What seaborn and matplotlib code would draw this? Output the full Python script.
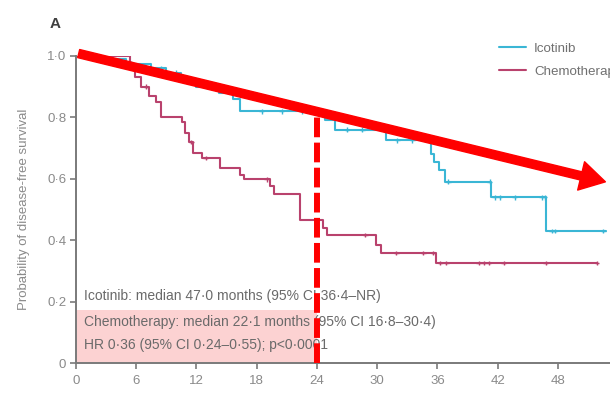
import numpy as np
import pandas as pd
import matplotlib
matplotlib.use("Agg")
import matplotlib.pyplot as plt
from matplotlib.patches import FancyArrowPatch, Rectangle
import seaborn as sns

# ---------------- data ----------------
ico_t = [0, 2.5, 5.0, 7.5, 9.0, 10.5, 12.0, 14.2, 15.6, 16.3, 24.8, 25.8, 30.9,
         35.4, 35.7, 36.2, 36.8, 41.3, 46.8, 52.8]
ico_s = [1.0, 0.99, 0.975, 0.96, 0.945, 0.925, 0.90, 0.88, 0.86, 0.82, 0.79, 0.76,
         0.725, 0.68, 0.655, 0.63, 0.59, 0.54, 0.43, 0.43]
ico_cens = [3.0, 5.5, 8.5, 10.0, 13.0, 18.5, 20.5, 22.5, 23.5, 27.0, 28.5, 32.0,
            33.5, 37.1, 41.2, 41.7, 42.2, 43.7, 46.4, 46.7, 47.4, 47.7, 52.5]

chemo_t = [0, 5.4, 5.9, 6.5, 7.3, 8.0, 8.5, 10.6, 10.9, 11.3, 11.7, 12.5, 14.3,
           16.3, 16.7, 19.3, 19.7, 22.3, 24.6, 25.0, 29.9, 30.4, 35.9, 51.9]
chemo_s = [1.0, 0.96, 0.93, 0.90, 0.87, 0.85, 0.80, 0.785, 0.75, 0.72, 0.685, 0.668,
           0.635, 0.612, 0.598, 0.575, 0.55, 0.466, 0.44, 0.417, 0.385, 0.358, 0.326, 0.326]
chemo_cens = [7.0, 11.5, 12.9, 19.0, 28.8, 31.9, 34.6, 35.6, 36.3, 36.9, 40.1, 40.6,
              41.1, 42.6, 46.8, 51.9]

groups = ["Icotinib", "Chemotherapy"]
colors = ["#3ab6d5", "#b9426d"]

x_ticks = [0, 6, 12, 18, 24, 30, 36, 42, 48]
y_ticks = [0, 0.2, 0.4, 0.6, 0.8, 1.0]
y_ticklabels = ["0", "0·2", "0·4", "0·6", "0·8", "1·0"]

ylabel = "Probability of disease-free survival"
note_lines = ["Icotinib: median 47·0 months (95% CI 36·4–NR)",
              "Chemotherapy: median 22·1 months (95% CI 16·8–30·4)",
              "HR 0·36 (95% CI 0·24–0·55); p<0·0001"]
landmark = 24
box_top = 0.173

# ---------------- build tables ----------------
curves = pd.concat([
    pd.DataFrame({"time": ico_t, "surv": ico_s, "group": groups[0]}),
    pd.DataFrame({"time": chemo_t, "surv": chemo_s, "group": groups[1]}),
], ignore_index=True)

def surv_at(ts, ss, x):
    idx = np.searchsorted(np.array(ts), np.array(x), side="right") - 1
    return np.array(ss)[idx]

cens = pd.concat([
    pd.DataFrame({"time": ico_cens, "surv": surv_at(ico_t, ico_s, ico_cens), "group": groups[0]}),
    pd.DataFrame({"time": chemo_cens, "surv": surv_at(chemo_t, chemo_s, chemo_cens), "group": groups[1]}),
], ignore_index=True)

# ---------------- plot ----------------
sns.set_style("ticks")
plt.rcParams["font.family"] = ["Liberation Sans", "DejaVu Sans"]

W, H = 610, 396
fig = plt.figure(figsize=(W / 100, H / 100), dpi=100)
ax = fig.add_axes([76 / W, 33 / H, 534 / W, 307 / H])
xmax = 534 / 10.04
ax.set_xlim(0, xmax)
ax.set_ylim(0, 1.0)

ax.add_patch(Rectangle((0, 0), landmark, box_top, facecolor="#fcd2d2", edgecolor="none", zorder=0))

palette = dict(zip(groups, colors))
sns.lineplot(data=curves, x="time", y="surv", hue="group", palette=palette,
             drawstyle="steps-post", estimator=None, sort=False, lw=1.5, ax=ax,
             legend=True, zorder=2)
sns.scatterplot(data=cens, x="time", y="surv", hue="group", palette=palette,
                marker="+", s=12, linewidth=1.0, ax=ax, legend=False, zorder=3)

ax.set_xticks(x_ticks)
ax.set_yticks(y_ticks)
ax.set_yticklabels(y_ticklabels)
ax.tick_params(axis="both", colors="#7a7a7a", labelcolor="#8a8a8a", labelsize=9.5,
               length=4.5, width=1.2)
ax.tick_params(axis="x", pad=4.5)
ax.tick_params(axis="y", pad=2.5)
for sp in ["top", "right"]:
    ax.spines[sp].set_visible(False)
for sp in ["left", "bottom"]:
    ax.spines[sp].set_color("#7a7a7a")
    ax.spines[sp].set_linewidth(1.4)
ax.set_xlabel("")
ax.set_ylabel(ylabel, fontsize=9.5, color="#8a8a8a", labelpad=12)

handles, labels = ax.get_legend_handles_labels()
leg = ax.legend(handles, labels, loc="upper left",
                bbox_to_anchor=(494 / W, 1 - 37 / H), bbox_transform=fig.transFigure,
                frameon=False, fontsize=9.6, handlelength=2.0, labelspacing=0.8,
                handletextpad=0.6, borderaxespad=0)
for t in leg.get_texts():
    t.set_color("#707070")

ys_px = [296, 322, 345]
for line, ypx in zip(note_lines, ys_px):
    ax.text(8 / 10.04, (363 - ypx) / 307, line, fontsize=10, color="#6a6a6a",
            va="center", ha="left", zorder=4)

ax.plot([landmark, landmark], [0, 0.82], color="red", lw=4.3,
        dashes=(3.3, 0.9), zorder=5, clip_on=False)

arrow = FancyArrowPatch((0, 1.01), (53.0, 0.588),
                        arrowstyle="simple,tail_width=6,head_width=21,head_length=18",
                        mutation_scale=1, color="red", zorder=6, clip_on=False)
ax.add_patch(arrow)

fig.text(50 / W, 1 - 24 / H, "A", fontsize=11, fontweight="bold", color="#404040",
         ha="left", va="center")

fig.savefig("out.png", dpi=100)
